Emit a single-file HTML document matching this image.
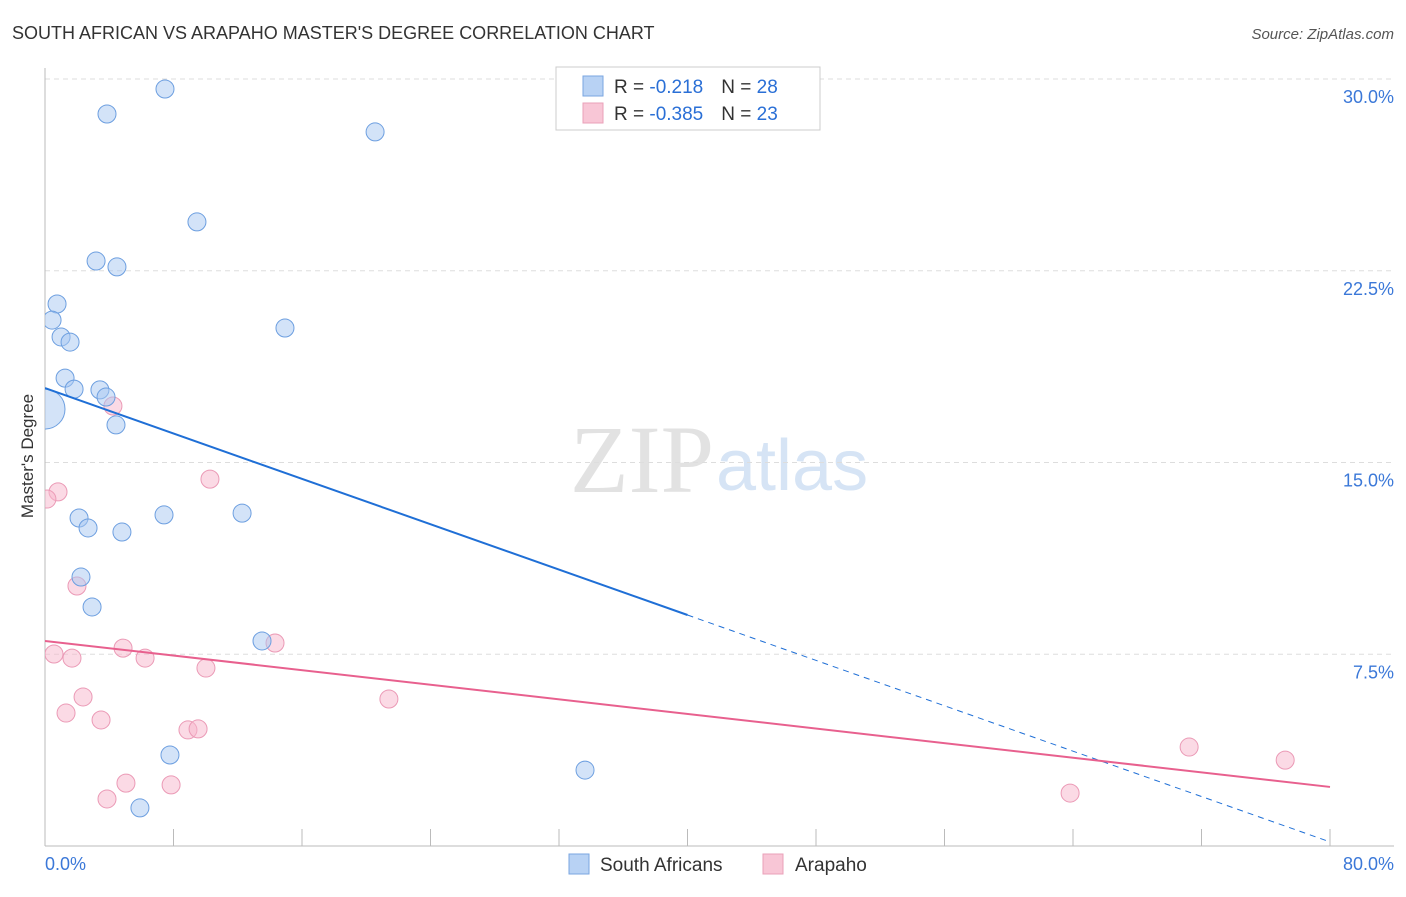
<!DOCTYPE html>
<html><head><meta charset="utf-8"><style>
body{margin:0;background:#fff;font-family:"Liberation Sans",sans-serif}
</style></head><body>
<svg width="1406" height="892" xmlns="http://www.w3.org/2000/svg" style="font-family:'Liberation Sans',sans-serif">
<defs><clipPath id="plot"><rect x="45" y="60" width="1360" height="790"/></clipPath></defs>
<text x="12" y="39" font-size="18" fill="#333">SOUTH AFRICAN VS ARAPAHO MASTER'S DEGREE CORRELATION CHART</text>
<text x="1394" y="39" font-size="15" fill="#555" text-anchor="end" font-style="italic">Source: ZipAtlas.com</text>
<text x="714" y="492" font-size="96" fill="#e2e2e2" text-anchor="end" font-family="Liberation Serif,serif">ZIP</text>
<text x="716" y="490" font-size="72" fill="#d6e4f5">atlas</text>
<g id="grid"></g>
<line x1="45" y1="68" x2="45" y2="846" stroke="#bbb"/>
<line x1="45" y1="846" x2="1394" y2="846" stroke="#bbb"/>
<g id="xticks"></g>
<g id="marks" clip-path="url(#plot)"></g>
<text transform="translate(33,456) rotate(-90)" font-size="17" fill="#333" text-anchor="middle">Master's Degree</text>
<text x="45" y="870" font-size="18" fill="#3b78d8">0.0%</text>
<text x="1394" y="870" font-size="18" fill="#3b78d8" text-anchor="end">80.0%</text>
<g>
<rect x="556" y="67" width="264" height="63" fill="#fff" stroke="#ccc"/>
<rect x="583" y="76" width="20" height="20" fill="#b8d2f4" stroke="#7aa6e0"/>
<rect x="583" y="103" width="20" height="20" fill="#f8c6d6" stroke="#eaa0b8"/>
<text x="614" y="93" font-size="19" fill="#333">R = <tspan fill="#2a6fd6"> -0.218</tspan><tspan dx="18">N = </tspan><tspan fill="#2a6fd6">28</tspan></text>
<text x="614" y="120" font-size="19" fill="#333">R = <tspan fill="#2a6fd6">-0.385</tspan><tspan dx="18">N = </tspan><tspan fill="#2a6fd6">23</tspan></text>
</g>
<g>
<rect x="569" y="854" width="20" height="20" fill="#b8d2f4" stroke="#7aa6e0"/>
<text x="600" y="871" font-size="19" fill="#333">South Africans</text>
<rect x="763" y="854" width="20" height="20" fill="#f8c6d6" stroke="#eaa0b8"/>
<text x="795" y="871" font-size="19" fill="#333">Arapaho</text>
</g>
</svg>
<script>
const yTicks=[7.5,15,22.5,30];
const yTickLabels=["7.5%","15.0%","22.5%","30.0%"];
const xTicks=[0,8,16,24,32,40,48,56,64,72,80];
const blueX=[7.47,3.86,20.55,9.46,3.18,4.48,0.75,0.44,1.00,1.56,14.94,1.25,1.81,3.42,3.80,0,4.42,2.12,2.68,7.41,12.27,4.79,2.24,2.93,13.51,7.78,33.62,5.91];
const blueY=[29.61,28.63,27.93,24.41,22.88,22.65,21.20,20.57,19.91,19.71,20.26,18.30,17.87,17.84,17.56,17.09,16.47,12.83,12.44,12.95,13.02,12.28,10.52,9.35,8.02,3.56,2.97,1.49];
const pinkX=[4.23,10.27,0.81,0.12,1.99,0.56,1.68,4.86,6.23,10.02,14.32,2.37,1.31,3.49,8.90,9.53,21.41,5.04,7.85,3.86,63.82,71.23,77.21];
const pinkY=[17.21,14.35,13.85,13.57,10.17,7.51,7.35,7.74,7.35,6.96,7.94,5.83,5.20,4.93,4.54,4.58,5.75,2.46,2.39,1.84,2.07,3.87,3.36];
const blueTrend=[17.91,0.16];
const pinkTrend=[8.02,2.31];
const NS="http://www.w3.org/2000/svg";
const X=v=>45+v/80*1285, Y=v=>846-v/30*767;
function mk(t,a,p){const e=document.createElementNS(NS,t);for(const k in a)e.setAttribute(k,a[k]);p.appendChild(e);return e;}
const grid=document.getElementById('grid');
yTicks.forEach((v,i)=>{
 const l=mk('line',{x1:45,x2:1394,y1:Y(v),y2:Y(v),stroke:'#ddd','stroke-dasharray':'5,4'},grid);
 
 
 const t=mk('text',{x:1394,y:Y(v)+24,'font-size':18,fill:'#3b78d8','text-anchor':'end'},grid);
 t.textContent=yTickLabels[i];
 
 
});
const xt=document.getElementById('xticks');
xTicks.forEach(v=>{
 const l=mk('line',{x1:X(v),x2:X(v),y1:829,y2:846,stroke:'#bbb'},xt);
 
 
});
const m=document.getElementById('marks');
pinkX.forEach((x,i)=>{
 const c=mk('circle',{cx:X(x),cy:Y(pinkY[i]),r:9,fill:'rgba(248,182,204,0.5)',stroke:'#eb9ab6','stroke-width':1},m);
 
 
});
blueX.forEach((x,i)=>{
 const c=mk('circle',{cx:X(x),cy:Y(blueY[i]),r:i==15?20:9,fill:'rgba(168,200,242,0.5)',stroke:'#6d9fe0','stroke-width':1},m);
 
 
});
const bm=v=>blueTrend[0]+(blueTrend[1]-blueTrend[0])*v/80;
let l1=mk('line',{x1:X(0),y1:Y(bm(0)),x2:X(40),y2:Y(bm(40)),stroke:'#1f6fd6','stroke-width':2},m);


let l2=mk('line',{x1:X(40),y1:Y(bm(40)),x2:X(80),y2:Y(bm(80)),stroke:'#1f6fd6','stroke-width':1,'stroke-dasharray':'6,5'},m);


let l3=mk('line',{x1:X(0),y1:Y(pinkTrend[0]),x2:X(80),y2:Y(pinkTrend[1]),stroke:'#e8608e','stroke-width':2},m);


</script>
</body></html>
